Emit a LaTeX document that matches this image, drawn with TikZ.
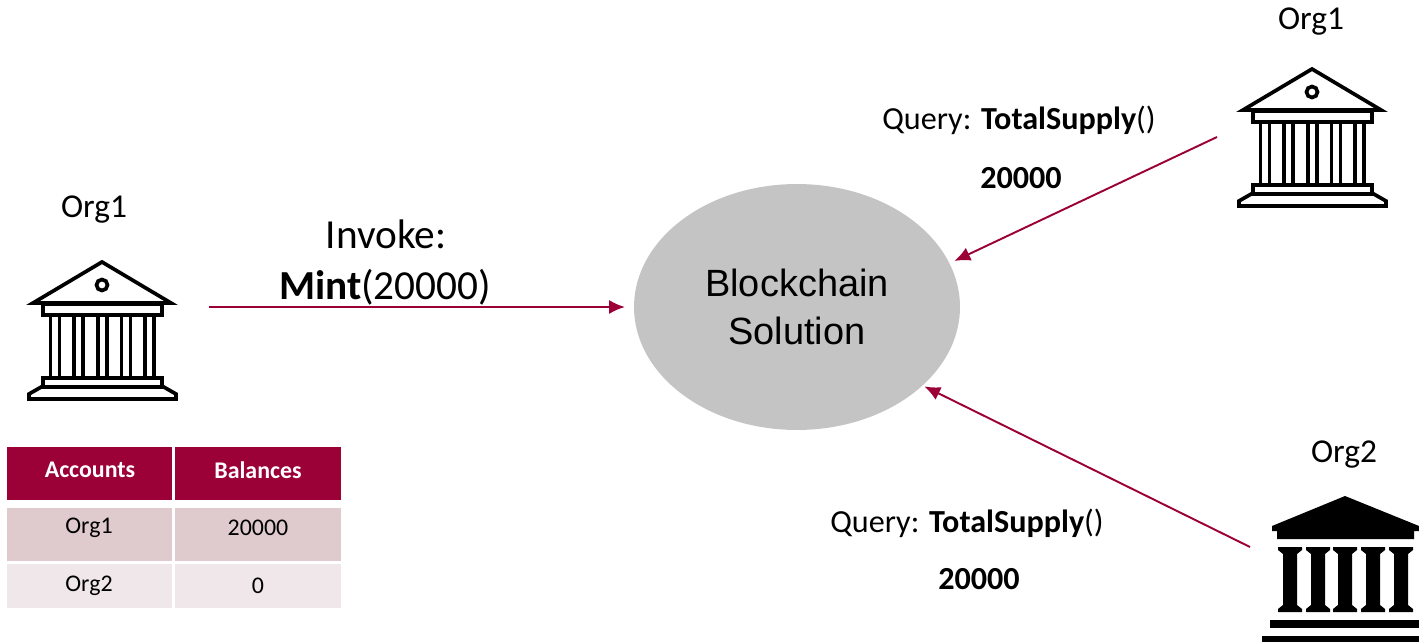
\documentclass[tikz,border=0pt]{standalone}
\usepackage{fontspec}
\setmainfont{Carlito}
\newfontfamily\solutionfont{Liberation Sans}
\definecolor{chain_red}{RGB}{155, 0, 54}
\definecolor{chain_gray}{RGB}{196, 196, 196}
\definecolor{row_dark}{RGB}{223, 203, 205}
\definecolor{row_light}{RGB}{239, 231, 233}
\usetikzlibrary{arrows.meta, positioning, shapes.geometric}

% Temple in outline, apex at (102,261) of the picture
\newcommand{\bankoutline}{%
  \draw[line width=2.1pt, line join=miter] (102,262) -- (33,303) -- (171,303) -- cycle;
  \draw[line width=2.1pt] (102,285) circle (5.5);
  \draw[line width=2.1pt] (43,304) rectangle (162,315);
  % Columns
  \foreach \c in {50.5,74,98,121.5,145} {
    \draw[line width=2.1pt] (\c,315) -- (\c,378);
    \draw[line width=2.1pt] (\c+9,315) -- (\c+9,378);
  }
  % Steps
  \draw[line width=2.1pt] (43,378) rectangle (162,387);
  \draw[line width=2.1pt, line join=miter] (43,386) -- (29,394) -- (29,399) -- (176,399) -- (176,394) -- (162,386);
}

\begin{document}
\begin{tikzpicture}[x=0.02cm, y=-0.02cm,
    arrowline/.style={chain_red, line width=1.1pt, -{Latex[length=9pt, width=8pt]}},
    orglabel/.style={font=\fontsize{19}{23}\selectfont},
    querylabel/.style={font=\fontsize{18.3}{22}\selectfont},
    headcell/.style={fill=chain_red, text=white, inner sep=0pt, font=\fontsize{13.6}{16}\selectfont\bfseries},
    bodycell/.style={inner sep=0pt, font=\fontsize{13.6}{16}\selectfont}]
  \useasboundingbox (0,0) rectangle (1419,642);

  % --- Blockchain in the middle ---
  \node[ellipse, fill=chain_gray, inner sep=0pt, minimum width=6.52cm, minimum height=4.92cm,
        align=center, font=\fontsize{21.6}{27}\selectfont\solutionfont] (chain) at (797,307) {Blockchain\\Solution};

  % --- Org1 on the left ---
  \node[orglabel] (orgleft) at (94,210) {Org1};
  \bankoutline

  % --- Org1 on the right ---
  \node[orglabel] (orgtop) at (1311,22) {Org1};
  \begin{scope}[shift={(1210,-193)}]
    \bankoutline
  \end{scope}

  % --- Org2, solid temple ---
  \node[orglabel] (orgbottom) at (1344,455) {Org2};
  \fill (1345,496) -- (1272,526) -- (1272,531) -- (1277,531) -- (1277,539) -- (1414,539) -- (1414,531) -- (1419,531) -- (1419,526) -- cycle;
  \foreach \c in {1290,1318,1345,1373,1401} {
    \fill (\c-12,547) -- (\c+12,547) -- (\c+12,550) -- (\c+7,554) -- (\c+7,605) -- (\c+12,609) -- (\c+12,612)
      -- (\c-12,612) -- (\c-12,609) -- (\c-7,605) -- (\c-7,554) -- (\c-12,550) -- cycle;
  }
  \fill (1270,620) rectangle (1419,628);
  \fill (1262,636) rectangle (1419,642);

  % Arrows
  \coordinate (invokestart) at (209,307);
  \coordinate (topstart) at (1217,137);
  \coordinate (bottomstart) at (1250,547);
  \draw[arrowline, shorten >=5pt] (invokestart) -- (chain.west);
  \draw[arrowline, shorten >=3pt] (topstart) -- (chain.16);
  \draw[arrowline, shorten >=1pt] (bottomstart) -- (chain.-32);

  % Labels
  \node[font=\fontsize{23.5}{29}\selectfont] (invoke) at (386,234) {Invoke:};
  \node[font=\fontsize{23.5}{29}\selectfont] (mint) at (385,287) {\textbf{Mint}(20000)};
  \node[querylabel] (querytop) at (1019,120) {Query: \textbf{TotalSupply}()};
  \node[querylabel] (valuetop) at (1021,178) {\textbf{20000}};
  \node[querylabel] (querybottom) at (967,523) {Query: \textbf{TotalSupply}()};
  \node[querylabel] (valuebottom) at (979,579) {\textbf{20000}};

  % --- Table ---
  \fill[chain_red] (7,447) rectangle (172,500);
  \fill[chain_red] (175,447) rectangle (341,500);
  \fill[row_dark] (7,508) rectangle (172,561);
  \fill[row_dark] (175,508) rectangle (341,561);
  \fill[row_light] (7,564) rectangle (172,608);
  \fill[row_light] (175,564) rectangle (341,608);
  \node[headcell] (headaccounts) at (90,470) {Accounts};
  \node[headcell] (headbalances) at (258,470) {Balances};
  \node[bodycell] (cellorgone) at (89,528) {Org1};
  \node[bodycell] (cellone) at (258,528) {20000};
  \node[bodycell] (cellorgtwo) at (89,586) {Org2};
  \node[bodycell] (celltwo) at (258,586) {0};
\end{tikzpicture}
\end{document}
